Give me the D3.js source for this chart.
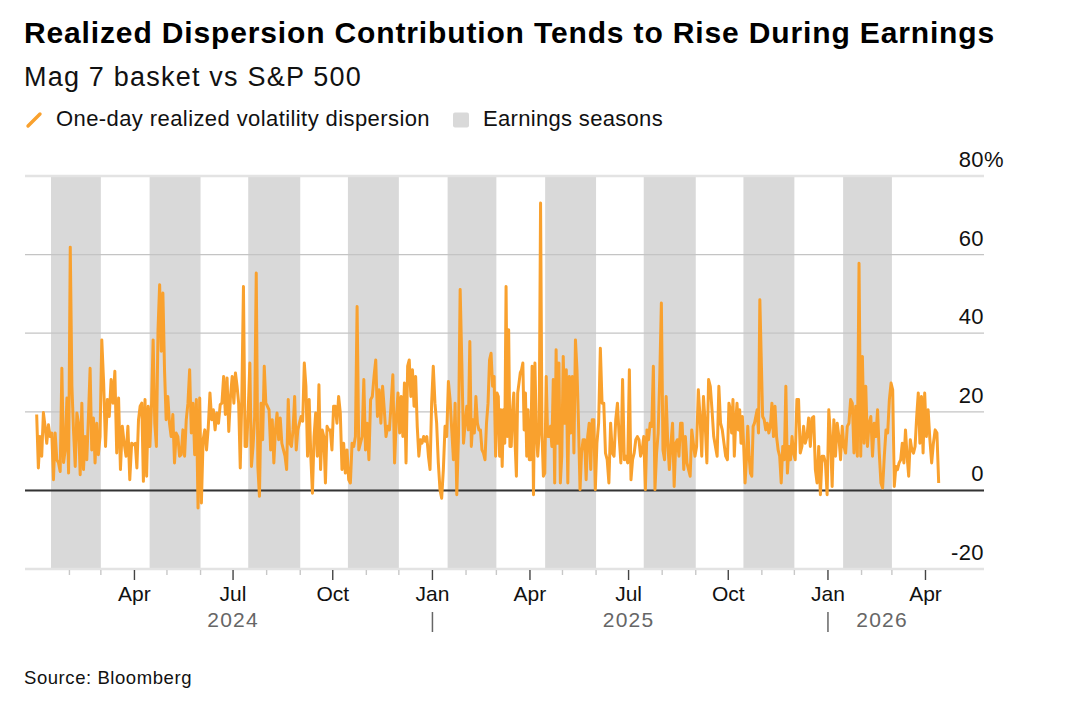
<!DOCTYPE html>
<html>
<head>
<meta charset="utf-8">
<script src="https://cdn.jsdelivr.net/npm/d3@7"></script>
<style>
  body { margin: 0; background: #fff; }
  svg { display: block; font-family: "Liberation Sans", Arial, sans-serif; }
</style>
</head>
<body>
<svg width="1080" height="710"></svg>
<script>
// one-day realized volatility dispersion, %
const months = ['2024-01','2024-02','2024-03','2024-04','2024-05','2024-06','2024-07','2024-08','2024-09','2024-10','2024-11','2024-12',
  '2025-01','2025-02','2025-03','2025-04','2025-05','2025-06','2025-07','2025-08','2025-09','2025-10','2025-11','2025-12',
  '2026-01','2026-02','2026-03','2026-04'];
const lastDay = '2026-04-14';
const dispersion = [
  [19.3, 5.7, 13.7, 8.7, 19.8, 16.3, 12.0, 16.7, 13.7, 14.6, 2.7, 14.6, 7.8, 7.0, 4.8, 31.1, 7.1, 10.3, 23.5, 4.4],
  [61.9, 26.5, 15.0, 6.1, 19.7, 17.1, 4.0, 22.2, 5.3, 13.7, 7.8, 18.8, 31.1, 10.3, 18.4, 7.0, 17.1, 9.1, 13.7],
  [38.3, 27.3, 11.2, 23.1, 18.8, 28.2, 22.2, 30.3, 9.5, 23.5, 5.3, 16.3, 12.0, 8.7, 16.3, 2.7, 12.0, 11.6],
  [12.0, 5.7, 18.0, 21.4, 22.2, 2.3, 23.1, 3.6, 21.4, 11.2, 21.8, 38.3, 17.1, 11.2, 40.9, 52.3, 35.4, 50.2, 30.7, 18.0],
  [23.9, 17.1, 13.7, 19.3, 7.0, 14.6, 13.7, 8.7, 9.1, 15.4, 8.7, 18.0, 22.2, 30.7, 14.6, 22.2, 9.1, 23.1, -4.5, 23.5],
  [-3.2, 12.9, 15.4, 10.3, 15.9, 24.8, 18.0, 20.5, 15.4, 19.7, 17.1, 21.8, 22.2, 29.0, 19.3, 28.6, 15.0, 23.9, 29.0],
  [22.2, 29.9, 26.5, 22.2, 5.7, 23.9, 51.9, 11.2, 11.2, 20.5, 32.4, 6.1, 11.2, 18.8, 55.3, 6.1, -1.5, 22.2, 12.9, 31.6, 22.2],
  [21.4, 20.5, 10.3, 18.0, 7.0, 15.4, 19.7, 12.9, 18.4, 12.0, 10.3, 8.7, 5.3, 23.1, 12.0, 11.2, 15.4, 23.9, 10.3, 15.4, 17.1],
  [18.8, 17.6, 32.4, 26.5, 8.7, 23.1, 8.7, -0.7, 13.7, 19.7, 8.7, 26.9, 5.3, 15.4, 13.7, 1.9, 16.3, 15.4, 15.4, 10.3],
  [21.4, 21.4, 17.1, 23.9, 19.7, 5.3, 12.0, 4.4, 10.3, 2.7, 1.9, 12.0, 11.2, 13.7, 46.8, 10.3, 12.0, 13.7, 28.2, 10.3],
  [17.1, 7.8, 23.1, 23.9, 29.0, 33.2, 18.8, 25.6, 17.1, 26.5, 20.5, 13.7, 16.3, 15.4, 22.2, 29.4, 7.0, 18.0, 24.8],
  [14.6, 23.9, 13.7, 27.3, 7.0, 31.6, 33.2, 23.9, 30.7, 21.4, 29.0, 16.3, 8.7, 12.9, 12.0, 13.7, 12.5, 13.7, 8.7, 5.3, 22.2],
  [31.6, 22.2, 17.1, 7.0, 0.2, -2.0, 5.3, 16.3, 13.7, 27.7, 23.1, 15.4, 7.8, 22.2, -1.1, 13.7, 51.1, 32.4, 12.0, 17.1],
  [21.4, 15.4, 37.9, 11.2, 18.0, 14.6, 23.9, 17.1, 15.4, 15.4, 10.3, 9.5, 7.8, 17.1, 22.2, 33.2, 34.9, 26.5, 29.0, 8.7],
  [24.8, 23.9, 8.7, 20.5, 6.1, 20.5, 12.0, 51.9, 13.7, 40.9, 11.2, 11.2, 20.5, 24.8, 12.0, 3.6, 24.8, 27.3, 29.9, 30.7, 32.4, 15.4, 24.8, 8.7, 20.5, 7.8],
  [7.8, 31.6, -1.1, 32.4, 15.4, 8.7, 14.6, 73.1, 14.6, 3.6, 4.4, 29.0, 13.7, 13.7, 16.3, 11.2, 28.2, 1.9, 35.8, 12.0, 32.4, 1.9, 8.7],
  [34.1, 17.1, 30.7, 1.9, 29.0, 14.6, 29.0, 9.5, 38.3, 30.7, 17.1, 0.2, 9.5, 12.9, 12.9, 2.7, 13.7, 17.1, 5.3, 18.0, 18.0, 0.2],
  [12.0, 17.1, 36.2, 22.2, 22.2, 9.5, 7.8, 1.9, 17.1, 9.5, 8.7, 18.0, 22.2, 13.7, 7.0, 28.2, 7.8, 8.7, 7.0],
  [30.7, 2.7, 7.8, 9.5, 12.9, 13.7, 12.9, 8.7, 10.3, 13.7, 0.2, 15.4, 12.9, 17.1, 16.3, 31.6, 0.2, 9.5, 14.6, 29.0, 47.7],
  [10.3, 7.8, 23.9, 12.0, 5.3, 12.0, 17.1, 1.0, 12.0, 12.9, 8.7, 17.1, 17.1, 5.3, 13.7, 7.0, 5.3, 3.6, 15.4, 12.0, 8.7],
  [11.2, 25.6, 18.8, 8.7, 23.9, 17.1, 7.0, 28.2, 26.5, 20.5, 13.7, 11.2, 8.7, 26.5, 17.1, 15.4, 12.0, 8.7, 7.8],
  [22.2, 20.5, 14.6, 23.1, 8.7, 17.1, 22.2, 15.4, 20.5, 12.0, 18.8, 11.2, 1.9, 7.8, 16.3, 8.7, 4.4, 3.6, 16.3, 17.1, 18.8, 20.5, 14.6, 48.5, 34.1],
  [18.8, 18.0, 15.4, 17.1, 14.6, 16.3, 22.2, 13.7, 21.4, 13.7, 10.3, 8.7, 1.9, 11.2, 7.8, 26.5, 4.4, 11.2, 7.8, 13.7, 9.5],
  [7.8, 23.1, 23.1, 9.5, 11.2, 16.3, 12.0, 13.7, 18.4, 11.2, 18.4, 18.8, 5.3, 1.9, 11.2, -1.1, 8.7, 8.7, 7.0, -1.1],
  [20.5, 13.7, 1.0, 18.0, 8.7, 17.1, 13.7, 7.8, 16.3, 11.2, 9.5, 16.3, 17.1, 23.1, 22.2, 9.5, 21.4, 8.7, 57.8, 8.7],
  [34.1, 12.0, 26.5, 11.2, 17.1, 18.8, 8.7, 17.1, 13.7, 20.5, 9.5, 1.9, 0.6, 8.7, 15.4, 14.6, 23.1, 27.3],
  [25.6, 1.0, 6.1, 5.3, 7.0, 7.8, 12.0, 7.0, 15.4, 8.7, 3.6, 12.9, 10.3, 9.5, 11.2, 18.8, 24.8, 12.0, 23.9, 9.5, 24.8],
  [13.7, 20.5, 12.9, 7.0, 12.0, 15.4, 14.6, 1.9]
];
const seasonStarts = ['2024-01-15','2024-04-15','2024-07-15','2024-10-15','2025-01-15','2025-04-15','2025-07-15','2025-10-15','2026-01-15'];
const seasonEnds   = ['2024-03-01','2024-06-01','2024-09-01','2024-12-01','2025-03-01','2025-06-01','2025-09-01','2025-12-01','2026-03-01'];
const yTicks = [80, 60, 40, 20, 0, -20];
const yearLabels = ['2024', '2025', '2026'];
const yearLabelDates = ['2024-07-01', '2025-07-01', '2026-02-20'];
const yearBreaks = ['2025-01-01', '2026-01-01'];

const parse = d3.timeParse('%Y-%m-%d');
const pm = d3.timeParse('%Y-%m');
const orange = '#f9a12e';

// lay each month's readings out evenly across that month
const series = [];
months.forEach((m, i) => {
  const start = pm(m);
  const end = i === months.length - 1 ? parse(lastDay) : d3.timeMonth.offset(start, 1);
  const vals = dispersion[i];
  vals.forEach((v, k) => {
    series.push({ date: new Date(+start + (k + 0.5) / vals.length * (end - start)), value: v });
  });
});

const svg = d3.select('svg');
svg.append('rect').attr('width', 1080).attr('height', 710).attr('fill', '#fff');

const x = d3.scaleTime().domain([parse('2023-12-22'), parse('2026-05-25')]).range([25, 984]);
const y = d3.scaleLinear().domain([-20, 80]).range([569, 176]);

// shade earnings seasons
svg.append('g').selectAll('rect')
  .data(seasonStarts.map((s, i) => [parse(s), parse(seasonEnds[i])]))
  .join('rect')
  .attr('x', d => x(d[0]))
  .attr('width', d => x(d[1]) - x(d[0]))
  .attr('y', y(80))
  .attr('height', y(-20) - y(80))
  .attr('fill', '#d9d9d9');

// gridlines
const grid = svg.append('g');
grid.selectAll('line')
  .data(yTicks)
  .join('line')
  .attr('x1', 25).attr('x2', 984)
  .attr('y1', d => y(d)).attr('y2', d => y(d))
  .attr('stroke', d => (d === 80 || d === -20) ? '#e3e3e3' : '#c4c4c4')
  .attr('stroke-width', d => (d === 80 || d === -20) ? 2.5 : 1.2);

// y labels sit above their gridlines, % hangs outside
const yl = svg.append('g').attr('font-size', 22).attr('fill', '#111');
yl.selectAll('text.num')
  .data(yTicks)
  .join('text')
  .attr('class', 'num')
  .attr('x', 984)
  .attr('y', d => y(d) - 9)
  .attr('text-anchor', 'end')
  .attr('letter-spacing', 0.4)
  .text(d => d);
yl.append('text').attr('x', 984).attr('y', y(80) - 9).text('%');

// x axis: monthly ticks, quarter labels
const monthTicks = d3.timeMonth.range(parse('2024-02-01'), parse('2026-04-02'));
const xa = svg.append('g');
xa.selectAll('line')
  .data(monthTicks)
  .join('line')
  .attr('x1', d => x(d)).attr('x2', d => x(d))
  .attr('y1', 570)
  .attr('y2', d => d.getMonth() % 3 === 0 ? 580 : 575)
  .attr('stroke', d => d.getMonth() % 3 === 0 ? '#444' : '#c8c8c8')
  .attr('stroke-width', 1.4);
xa.selectAll('text')
  .data(monthTicks.filter(d => d.getMonth() % 3 === 0))
  .join('text')
  .attr('x', d => x(d))
  .attr('y', 601)
  .attr('text-anchor', 'middle')
  .attr('font-size', 21)
  .attr('fill', '#111')
  .text(d3.timeFormat('%b'));

svg.append('g').selectAll('text')
  .data(yearLabels)
  .join('text')
  .attr('x', (d, i) => x(parse(yearLabelDates[i])))
  .attr('y', 627)
  .attr('text-anchor', 'middle')
  .attr('font-size', 21)
  .attr('letter-spacing', 1.2)
  .attr('fill', '#666')
  .text(d => d);
svg.append('g').selectAll('line')
  .data(yearBreaks)
  .join('line')
  .attr('x1', d => x(parse(d))).attr('x2', d => x(parse(d)))
  .attr('y1', 612).attr('y2', 632)
  .attr('stroke', '#666').attr('stroke-width', 1.5);

// zero line
svg.append('line')
  .attr('x1', 25).attr('x2', 984)
  .attr('y1', y(0)).attr('y2', y(0))
  .attr('stroke', '#333').attr('stroke-width', 2);

// the series
svg.append('path')
  .datum(series)
  .attr('fill', 'none')
  .attr('stroke', orange)
  .attr('stroke-width', 3)
  .attr('stroke-linejoin', 'round')
  .attr('d', d3.line().x(d => x(d.date)).y(d => y(d.value)));

// titles, legend, source
function fitText(sel, width) {
  const n = sel.text().length;
  const w = sel.node().getComputedTextLength();
  sel.attr('letter-spacing', (width - w) / n);
}
fitText(svg.append('text').attr('x', 24).attr('y', 43).attr('font-size', 30).attr('font-weight', 'bold').attr('fill', '#000')
  .text('Realized Dispersion Contribution Tends to Rise During Earnings'), 971);
fitText(svg.append('text').attr('x', 24).attr('y', 86).attr('font-size', 27).attr('fill', '#111')
  .text('Mag 7 basket vs S&P 500'), 338);

svg.append('line').attr('x1', 28).attr('y1', 126).attr('x2', 40).attr('y2', 114)
  .attr('stroke', orange).attr('stroke-width', 3.4).attr('stroke-linecap', 'round');
fitText(svg.append('text').attr('x', 56).attr('y', 126).attr('font-size', 22).attr('fill', '#111')
  .text('One-day realized volatility dispersion'), 374);
svg.append('rect').attr('x', 453).attr('y', 112.5).attr('width', 16).attr('height', 15).attr('rx', 2).attr('fill', '#d9d9d9');
fitText(svg.append('text').attr('x', 483).attr('y', 126).attr('font-size', 22).attr('fill', '#111')
  .text('Earnings seasons'), 180);

fitText(svg.append('text').attr('x', 24).attr('y', 684).attr('font-size', 18.5).attr('fill', '#111')
  .text('Source: Bloomberg'), 168);
</script>
</body>
</html>
